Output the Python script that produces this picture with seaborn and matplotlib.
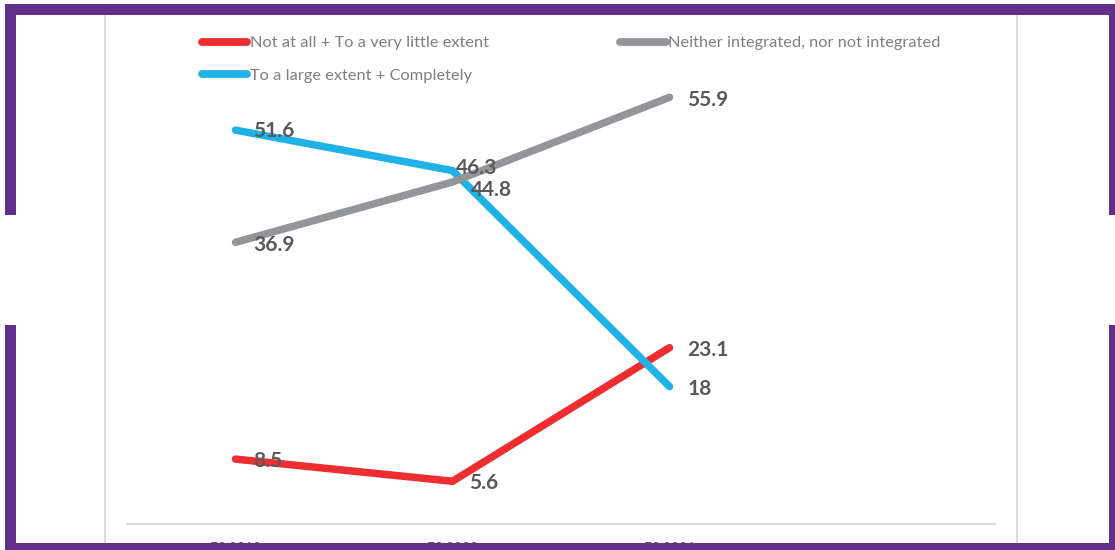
import matplotlib
matplotlib.use("Agg")
import matplotlib.pyplot as plt
from matplotlib.patches import Rectangle
from matplotlib.lines import Line2D
import pandas as pd
import seaborn as sns

# Survey waves (the fourth slot on the axis is left empty)
waves = ["ES 2018", "ES 2020", "ES 2021", ""]
series_names = [
    "Not at all + To a very little extent",
    "To a large extent + Completely",
    "Neither integrated, nor not integrated",
]
low_values = [8.5, 5.6, 23.1]
high_values = [51.6, 46.3, 18.0]
neutral_values = [36.9, 44.8, 55.9]

colors = {
    series_names[0]: "#EE2D30",
    series_names[1]: "#1FB2E6",
    series_names[2]: "#939598",
}

# per-label offsets in pixels (dx, dy) so overlapping labels stay readable
label_offsets = {
    series_names[0]: [(18, -2), (17, -2), (18, -2)],
    series_names[1]: [(18, -1), (3, 3), (18, -2)],
    series_names[2]: [(18, -3), (18, -8), (18, -3)],
}

rows = []
for name, vals in zip(series_names, [low_values, high_values, neutral_values]):
    for w, v in zip(waves[:3], vals):
        rows.append({"wave": w, "value": v, "series": name})
df = pd.DataFrame(rows)

sns.set_theme(style="white")
plt.rcParams["font.family"] = ["Lato", "DejaVu Sans"]

W, H = 1115, 550
fig = plt.figure(figsize=(W / 100, H / 100), dpi=100)
ax = fig.add_axes([127 / W, 26 / H, (995 - 127) / W, (524 - 66) / H])

pos = {w: i for i, w in enumerate(waves)}
df["x"] = df["wave"].map(pos)

sns.lineplot(data=df, x="x", y="value", hue="series", hue_order=series_names,
             palette=colors, linewidth=5.4, ax=ax, legend=False, sort=False)
for ln in ax.lines:
    ln.set_solid_capstyle("round")
    ln.set_solid_joinstyle("miter")

ax.set_xlim(-0.5, 3.5)
ax.set_ylim(0, 60)
ax.set_xticks(range(len(waves)))
ax.set_xticklabels(waves, color="#595959", fontsize=10)
ax.tick_params(axis="x", length=0, pad=13)
ax.set_yticks([])
ax.set_xlabel("")
ax.set_ylabel("")
for side in ["left", "right", "top"]:
    ax.spines[side].set_visible(False)
ax.spines["bottom"].set_color("#d9d9d9")
ax.spines["bottom"].set_linewidth(1.3)

for name, vals in zip(series_names, [low_values, high_values, neutral_values]):
    for i, v in enumerate(vals):
        dx, dy = label_offsets[name][i]
        txt = f"{v:g}"
        ax.annotate(txt, (i, v), xytext=(dx * 0.72, dy * 0.72),
                    textcoords="offset points", ha="left", va="center",
                    fontsize=15, fontweight="bold", color="#595959")

# legend: two columns, red/blue on the left, grey on the right
handles = [Line2D([0], [0], color=colors[n], lw=5.6, solid_capstyle="round")
           for n in series_names]
fig.legend(handles, series_names, ncol=2, loc="upper left",
           bbox_to_anchor=(202 / W, 1 - 36 / H), frameon=False,
           fontsize=11.8, labelcolor="#7f7f7f", handlelength=2.75,
           handletextpad=0.15, columnspacing=8.05, labelspacing=1.08,
           borderaxespad=0, borderpad=0)

# light grey side rules of the chart area
for xpix in (105, 1017):
    fig.add_artist(Line2D([xpix / W, xpix / W], [0, 1 - 15 / H],
                          color="#d9d9d9", lw=1.3, transform=fig.transFigure,
                          zorder=5))

# purple frame with openings on the left and right sides
purple = "#622F8B"
frame = [
    (5, 4, 1110, 11),      # top bar
    (5, 543, 1110, 7),     # bottom bar
    (5, 4, 11, 211),       # left upper
    (5, 325, 11, 225),     # left lower
    (1109, 4, 6, 211),     # right upper
    (1109, 325, 6, 225),   # right lower
]
for x, y, w, h in frame:
    fig.add_artist(Rectangle((x / W, 1 - (y + h) / H), w / W, h / H,
                             transform=fig.transFigure, facecolor=purple,
                             edgecolor="none", zorder=20))

fig.savefig("out.png", dpi=100, facecolor="white")
